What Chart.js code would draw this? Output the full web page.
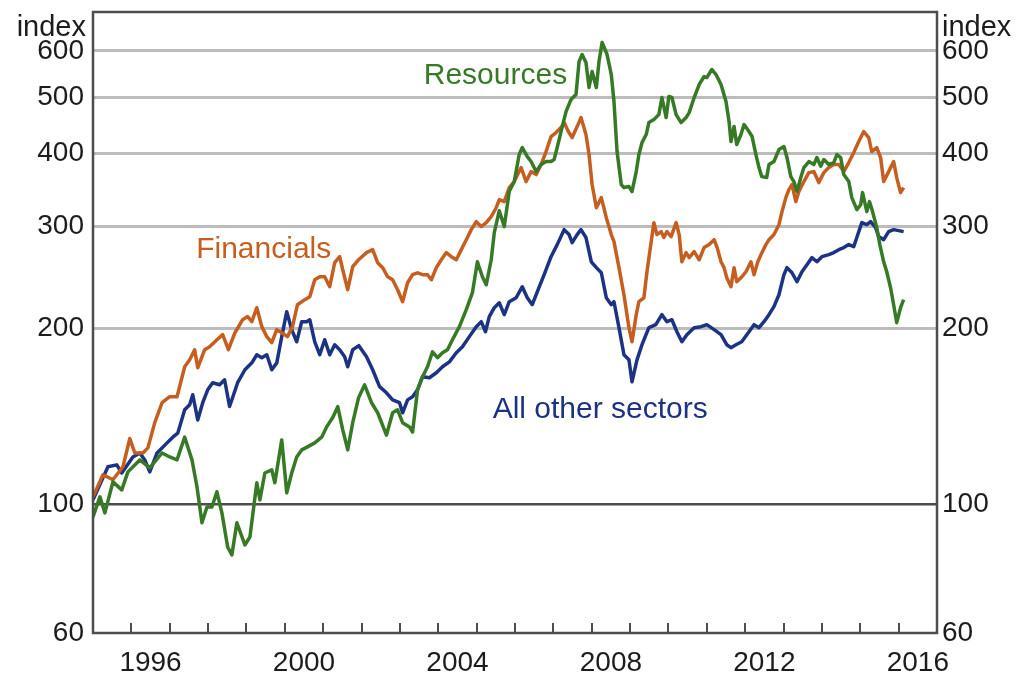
<!DOCTYPE html>
<html>
<head>
<meta charset="utf-8">
<title>Share price indices</title>
<script src="https://cdn.jsdelivr.net/npm/chart.js@4.4.1/dist/chart.umd.min.js"></script>
<style>
  html, body { margin: 0; padding: 0; background: #fff; }
  canvas { display: block; }
</style>
</head>
<body>
<canvas id="chart" width="1025" height="682"></canvas>
<script>
// Share price indices, log scale, start of 1995 = 100 (decimal years)
const resourcesDates = [
    1995.00, 1995.18, 1995.31, 1995.52, 1995.75, 1995.91, 1996.22, 1996.48, 1996.80, 1997.00,
    1997.19, 1997.39, 1997.58, 1997.71, 1997.84, 1997.97, 1998.10, 1998.23, 1998.36, 1998.51,
    1998.62, 1998.75, 1998.96, 1999.09, 1999.27, 1999.35, 1999.48, 1999.66, 1999.74, 1999.92,
    2000.05, 2000.18, 2000.31, 2000.44, 2000.59, 2000.78, 2000.96, 2001.09, 2001.25, 2001.38,
    2001.51, 2001.64, 2001.77, 2001.92, 2002.08, 2002.26, 2002.42, 2002.65, 2002.81, 2002.94,
    2003.07, 2003.25, 2003.33, 2003.46, 2003.59, 2003.72, 2003.85, 2003.98, 2004.11, 2004.24,
    2004.37, 2004.55, 2004.73, 2004.89, 2005.02, 2005.15, 2005.25, 2005.38, 2005.46, 2005.59,
    2005.72, 2005.85, 2005.98, 2006.11, 2006.19, 2006.32, 2006.42, 2006.55, 2006.68, 2006.81,
    2006.94, 2007.02, 2007.10, 2007.20, 2007.33, 2007.46, 2007.59, 2007.67, 2007.75, 2007.85,
    2007.93, 2008.01, 2008.12, 2008.19, 2008.27, 2008.40, 2008.51, 2008.58, 2008.66, 2008.77,
    2008.84, 2008.97, 2009.05, 2009.16, 2009.23, 2009.31, 2009.42, 2009.49, 2009.62, 2009.75,
    2009.83, 2009.94, 2010.01, 2010.09, 2010.20, 2010.33, 2010.46, 2010.54, 2010.67, 2010.80,
    2010.93, 2011.00, 2011.13, 2011.24, 2011.37, 2011.50, 2011.58, 2011.63, 2011.71, 2011.78,
    2011.89, 2011.97, 2012.10, 2012.18, 2012.28, 2012.36, 2012.43, 2012.56, 2012.62, 2012.75,
    2012.88, 2013.01, 2013.09, 2013.19, 2013.27, 2013.35, 2013.45, 2013.53, 2013.66, 2013.79,
    2013.87, 2013.97, 2014.05, 2014.18, 2014.31, 2014.39, 2014.49, 2014.57, 2014.70, 2014.78,
    2014.91, 2015.01, 2015.06, 2015.17, 2015.24, 2015.32, 2015.43, 2015.51, 2015.61, 2015.69,
    2015.79, 2015.87, 2015.95, 2016.05, 2016.13
];
const resourcesValues = [
    95.0, 102.8, 96.5, 109.1, 105.7, 113.5, 119.0, 115.3, 122.3, 120.4,
    119.0, 130.2, 119.0, 107.0, 92.8, 98.8, 98.8, 104.9, 96.5, 84.3,
    81.7, 92.8, 85.0, 87.7, 108.7, 101.6, 113.0, 114.4, 108.7, 128.8,
    104.5, 113.0, 120.4, 123.8, 125.3, 127.3, 130.2, 135.6, 140.7, 146.9,
    134.0, 123.8, 137.9, 152.0, 160.2, 149.2, 143.4, 131.3, 143.4, 145.1,
    137.9, 135.6, 132.9, 157.0, 165.4, 172.0, 182.5, 178.3, 181.8, 184.0,
    191.4, 201.6, 215.6, 230.6, 260.6, 245.6, 237.9, 262.7, 292.5, 318.9,
    299.5, 344.0, 357.9, 398.3, 409.5, 395.0, 387.4, 372.3, 382.8, 387.4,
    387.4, 390.4, 409.5, 436.2, 472.0, 495.1, 505.0, 575.4, 591.6, 573.1,
    519.2, 553.2, 519.2, 575.4, 620.5, 591.6, 546.6, 491.2, 403.0, 353.7,
    349.5, 350.9, 344.0, 372.3, 398.3, 417.6, 431.1, 451.9, 457.3, 466.5,
    499.1, 461.0, 501.1, 499.1, 466.5, 451.9, 461.0, 470.2, 499.1, 525.4,
    542.3, 540.1, 557.6, 546.6, 525.4, 491.2, 453.7, 419.3, 444.9, 414.4,
    431.1, 448.4, 436.2, 427.7, 398.3, 378.3, 365.0, 363.6, 382.8, 387.4,
    406.2, 411.1, 393.6, 365.0, 357.9, 344.0, 363.6, 378.3, 387.4, 382.8,
    393.6, 380.3, 390.4, 382.8, 385.8, 398.3, 393.6, 367.9, 357.9, 335.9,
    320.3, 326.6, 342.6, 317.8, 330.6, 317.8, 298.3, 278.9, 260.6, 250.5,
    235.1, 219.9, 204.8, 217.3, 224.3
];

const financialsDates = [
    1995.00, 1995.26, 1995.52, 1995.78, 1995.96, 1996.09, 1996.30, 1996.43, 1996.61, 1996.80,
    1997.00, 1997.19, 1997.39, 1997.52, 1997.65, 1997.73, 1997.91, 1998.04, 1998.23, 1998.38,
    1998.53, 1998.70, 1998.90, 1999.03, 1999.14, 1999.27, 1999.40, 1999.53, 1999.66, 1999.79,
    1999.92, 2000.07, 2000.20, 2000.33, 2000.52, 2000.65, 2000.78, 2000.91, 2001.04, 2001.17,
    2001.30, 2001.43, 2001.51, 2001.64, 2001.77, 2001.93, 2002.13, 2002.29, 2002.42, 2002.55,
    2002.68, 2002.81, 2002.94, 2003.07, 2003.20, 2003.33, 2003.46, 2003.59, 2003.72, 2003.82,
    2003.95, 2004.08, 2004.21, 2004.34, 2004.47, 2004.60, 2004.73, 2004.86, 2004.99, 2005.12,
    2005.25, 2005.38, 2005.51, 2005.59, 2005.72, 2005.85, 2005.98, 2006.16, 2006.29, 2006.42,
    2006.55, 2006.68, 2006.81, 2006.94, 2007.07, 2007.20, 2007.28, 2007.39, 2007.49, 2007.62,
    2007.72, 2007.85, 2007.93, 2008.01, 2008.12, 2008.25, 2008.38, 2008.51, 2008.58, 2008.71,
    2008.84, 2008.97, 2009.05, 2009.16, 2009.23, 2009.36, 2009.44, 2009.55, 2009.62, 2009.70,
    2009.81, 2009.88, 2009.96, 2010.07, 2010.20, 2010.28, 2010.35, 2010.46, 2010.54, 2010.67,
    2010.80, 2010.93, 2011.06, 2011.19, 2011.27, 2011.37, 2011.45, 2011.52, 2011.63, 2011.71,
    2011.78, 2011.89, 2012.02, 2012.15, 2012.23, 2012.33, 2012.41, 2012.54, 2012.62, 2012.75,
    2012.88, 2012.96, 2013.06, 2013.14, 2013.22, 2013.32, 2013.40, 2013.53, 2013.66, 2013.79,
    2013.92, 2014.05, 2014.18, 2014.31, 2014.44, 2014.57, 2014.70, 2014.83, 2014.96, 2015.09,
    2015.22, 2015.30, 2015.43, 2015.53, 2015.61, 2015.74, 2015.87, 2015.95, 2016.05, 2016.13
];
const financialsValues = [
    102.8, 112.2, 110.0, 115.8, 129.5, 122.3, 122.3, 124.8, 137.9, 149.2,
    152.8, 152.8, 172.0, 176.8, 184.0, 171.3, 184.0, 186.2, 191.4, 195.3,
    184.0, 196.8, 207.2, 209.8, 205.6, 217.3, 201.6, 193.8, 189.2, 199.2,
    196.8, 193.8, 201.6, 219.9, 224.3, 227.0, 242.7, 245.6, 245.6, 236.1,
    259.6, 265.9, 252.5, 233.3, 255.6, 263.0, 270.2, 273.4, 259.6, 254.6,
    245.6, 242.7, 233.3, 222.5, 239.8, 247.6, 249.5, 247.6, 247.6, 242.7,
    254.6, 262.7, 270.2, 265.9, 262.7, 273.4, 284.4, 295.9, 305.4, 299.5,
    304.2, 311.5, 322.7, 333.2, 330.6, 349.5, 357.9, 378.3, 357.9, 372.3,
    367.9, 382.8, 403.0, 427.7, 434.5, 443.1, 451.9, 436.2, 426.0, 444.9,
    461.0, 431.1, 398.3, 353.7, 322.7, 335.9, 310.3, 290.2, 282.2, 254.6,
    228.7, 200.8, 189.9, 211.4, 222.5, 226.0, 250.5, 282.2, 304.2, 290.2,
    293.6, 286.8, 293.6, 287.9, 304.2, 290.2, 260.6, 270.2, 264.9, 271.3,
    262.7, 275.6, 278.9, 284.4, 275.6, 260.6, 254.6, 244.6, 236.1, 254.6,
    240.8, 244.6, 250.5, 260.6, 247.6, 260.6, 268.0, 278.9, 284.4, 290.2,
    301.8, 317.8, 335.9, 346.7, 353.7, 330.6, 344.0, 357.9, 370.8, 372.3,
    356.5, 370.8, 378.3, 382.8, 382.8, 372.3, 385.8, 401.4, 419.3, 436.2,
    426.0, 403.0, 409.5, 393.6, 357.9, 372.3, 387.4, 363.6, 342.6, 349.5
];

const otherDates = [
    1995.00, 1995.39, 1995.62, 1995.75, 1996.04, 1996.22, 1996.35, 1996.48, 1996.67, 1996.93,
    1997.08, 1997.21, 1997.39, 1997.52, 1997.60, 1997.73, 1997.86, 1997.99, 1998.12, 1998.30,
    1998.43, 1998.56, 1998.77, 1998.96, 1999.14, 1999.27, 1999.40, 1999.53, 1999.66, 1999.79,
    1999.92, 2000.05, 2000.18, 2000.31, 2000.44, 2000.57, 2000.65, 2000.78, 2000.91, 2001.04,
    2001.17, 2001.30, 2001.43, 2001.56, 2001.64, 2001.77, 2001.93, 2002.13, 2002.29, 2002.47,
    2002.65, 2002.81, 2002.99, 2003.07, 2003.20, 2003.33, 2003.46, 2003.59, 2003.77, 2003.95,
    2004.11, 2004.29, 2004.47, 2004.63, 2004.81, 2004.99, 2005.12, 2005.23, 2005.33, 2005.46,
    2005.59, 2005.72, 2005.85, 2006.03, 2006.19, 2006.32, 2006.45, 2006.58, 2006.76, 2006.94,
    2007.10, 2007.28, 2007.41, 2007.49, 2007.62, 2007.72, 2007.85, 2007.99, 2008.12, 2008.25,
    2008.38, 2008.51, 2008.58, 2008.71, 2008.84, 2008.97, 2009.05, 2009.18, 2009.31, 2009.49,
    2009.67, 2009.83, 2009.96, 2010.09, 2010.22, 2010.35, 2010.48, 2010.67, 2010.85, 2011.00,
    2011.19, 2011.37, 2011.52, 2011.63, 2011.76, 2011.91, 2012.10, 2012.23, 2012.36, 2012.49,
    2012.62, 2012.75, 2012.88, 2013.01, 2013.09, 2013.22, 2013.35, 2013.48, 2013.61, 2013.74,
    2013.87, 2014.00, 2014.18, 2014.31, 2014.44, 2014.57, 2014.70, 2014.83, 2014.91, 2015.04,
    2015.17, 2015.27, 2015.40, 2015.48, 2015.61, 2015.74, 2015.87, 2016.13
];
const otherValues = [
    101.6, 115.8, 116.7, 113.0, 120.4, 122.3, 119.0, 113.5, 122.3, 127.3,
    130.2, 132.3, 145.1, 148.0, 154.0, 139.4, 149.2, 157.0, 161.5, 160.2,
    163.4, 147.0, 161.5, 170.0, 174.7, 180.4, 178.3, 180.4, 170.0, 174.7,
    193.8, 213.9, 199.2, 189.9, 205.6, 205.6, 207.2, 189.9, 180.4, 191.4,
    180.4, 187.7, 184.0, 179.0, 172.0, 184.0, 187.0, 179.0, 170.0, 159.0,
    155.2, 150.9, 149.2, 143.4, 150.9, 152.8, 157.0, 165.4, 164.7, 168.0,
    172.0, 175.4, 181.8, 186.2, 193.8, 201.6, 205.6, 197.6, 209.8, 217.3,
    221.6, 211.4, 222.5, 226.0, 236.1, 226.0, 219.9, 231.4, 247.6, 265.9,
    278.9, 295.9, 290.2, 281.1, 290.2, 295.9, 286.8, 260.6, 254.6, 249.5,
    226.0, 219.9, 222.5, 200.8, 180.4, 176.8, 162.1, 176.8, 187.7, 200.8,
    203.2, 211.4, 205.6, 207.2, 197.6, 189.9, 195.3, 200.8, 201.6, 203.2,
    199.2, 195.3, 187.7, 185.5, 187.7, 189.9, 197.6, 203.2, 200.8, 205.6,
    211.4, 218.2, 228.7, 247.6, 254.6, 249.5, 240.8, 250.5, 257.6, 264.9,
    260.6, 265.9, 268.0, 270.2, 273.4, 275.6, 278.9, 276.7, 286.8, 304.2,
    301.8, 305.4, 298.3, 287.9, 284.4, 293.6, 295.9, 293.6
];

const yTickValues = [60, 100, 200, 300, 400, 500, 600];
const xLabelYears = [1996, 2000, 2004, 2008, 2012, 2016];

const FONT = '"Liberation Sans", Arial, Helvetica, sans-serif';
const TEXT = '#1c1c1c';
const GREEN = '#367a26';
const ORANGE = '#c65e20';
const BLUE = '#1c3383';

function toPoints(dates, values)
{
    return dates.map((d, i) => ({ x: d, y: values[i] }));
}

function yAxis(position, width, padding)
{
    return {
        type: 'logarithmic',
        position: position,
        min: 60,
        max: 700,
        afterBuildTicks: (scale) => {
            scale.ticks = yTickValues.map(v => ({ value: v }));
        },
        afterFit: (scale) => {
            // fixed gutter, and no extra room reserved for the end labels
            scale.width = width;
            scale.paddingTop = 0;
            scale.paddingBottom = 0;
        },
        ticks: {
            callback: (v) => String(v),
            font: { family: FONT, size: 28 },
            color: TEXT,
            padding: padding
        },
        grid: {
            display: position === 'left',
            drawTicks: false,
            color: (ctx) => {
                if (!ctx.tick || ctx.tick.value === 60) return 'rgba(0,0,0,0)';
                return ctx.tick.value === 100 ? '#4d4d4d' : '#bcbcbc';
            },
            lineWidth: (ctx) => (ctx.tick && ctx.tick.value === 100) ? 2.5 : 3
        },
        border: { display: false }
    };
}

// series names sit in data space next to their lines
const seriesLabels = [
    { text: 'Resources', x: 2005.49, y: 544, color: GREEN },
    { text: 'Financials', x: 1999.45, y: 273, color: ORANGE },
    { text: 'All other sectors', x: 2008.22, y: 145, color: BLUE }
];

const decorations = {
    id: 'decorations',
    afterDraw(chart) {
        const { ctx, chartArea: a, scales } = chart;
        ctx.save();

        // year ticks on the bottom edge, pointing up into the plot
        ctx.strokeStyle = '#4d4d4d';
        ctx.lineWidth = 2;
        for (let yr = 1996; yr <= 2016; yr++) {
            const px = Math.round(scales.x.getPixelForValue(yr));
            ctx.beginPath();
            ctx.moveTo(px, a.bottom);
            ctx.lineTo(px, a.bottom - 10);
            ctx.stroke();
        }

        // frame round the plot
        ctx.lineWidth = 2.5;
        ctx.strokeRect(a.left, a.top, a.right - a.left, a.bottom - a.top);

        // unit labels above each axis
        ctx.fillStyle = TEXT;
        ctx.font = '29px ' + FONT;
        ctx.textBaseline = 'alphabetic';
        ctx.textAlign = 'right';
        ctx.fillText('index', a.left - 7, 36);
        ctx.textAlign = 'left';
        ctx.fillText('index', a.right + 5, 36);

        ctx.font = '30px ' + FONT;
        ctx.textAlign = 'center';
        ctx.textBaseline = 'middle';
        seriesLabels.forEach((l) => {
            ctx.fillStyle = l.color;
            ctx.fillText(l.text, scales.x.getPixelForValue(l.x), scales.y.getPixelForValue(l.y));
        });

        ctx.restore();
    }
};

function lineSet(label, dates, values, color)
{
    return {
        label: label,
        data: toPoints(dates, values),
        borderColor: color,
        borderWidth: 3.5,
        borderJoinStyle: 'round',
        pointRadius: 0,
        tension: 0,
        fill: false
    };
}

new Chart(document.getElementById('chart'), {
    type: 'line',
    data: {
        datasets: [
            lineSet('Resources', resourcesDates, resourcesValues, GREEN),
            lineSet('Financials', financialsDates, financialsValues, ORANGE),
            lineSet('All other sectors', otherDates, otherValues, BLUE)
        ]
    },
    options: {
        responsive: false,
        animation: false,
        devicePixelRatio: 1,
        layout: { padding: { top: 12, left: 0, right: 0, bottom: 0 } },
        plugins: {
            legend: { display: false },
            tooltip: { enabled: false }
        },
        scales: {
            x: {
                type: 'linear',
                min: 1995,
                max: 2017,
                afterBuildTicks: (scale) => {
                    scale.ticks = xLabelYears.map(y => ({ value: y + 0.5 }));
                },
                afterFit: (scale) => {
                    scale.height = 49;
                    scale.paddingLeft = 0;
                    scale.paddingRight = 0;
                },
                ticks: {
                    callback: (v) => String(Math.floor(v)),
                    font: { family: FONT, size: 28 },
                    color: TEXT,
                    padding: 13,
                    maxRotation: 0,
                    autoSkip: false
                },
                grid: { display: false, drawTicks: false },
                border: { display: false }
            },
            y: yAxis('left', 93, 9),
            y2: yAxis('right', 88, 5)
        }
    },
    plugins: [decorations]
});
</script>
</body>
</html>
